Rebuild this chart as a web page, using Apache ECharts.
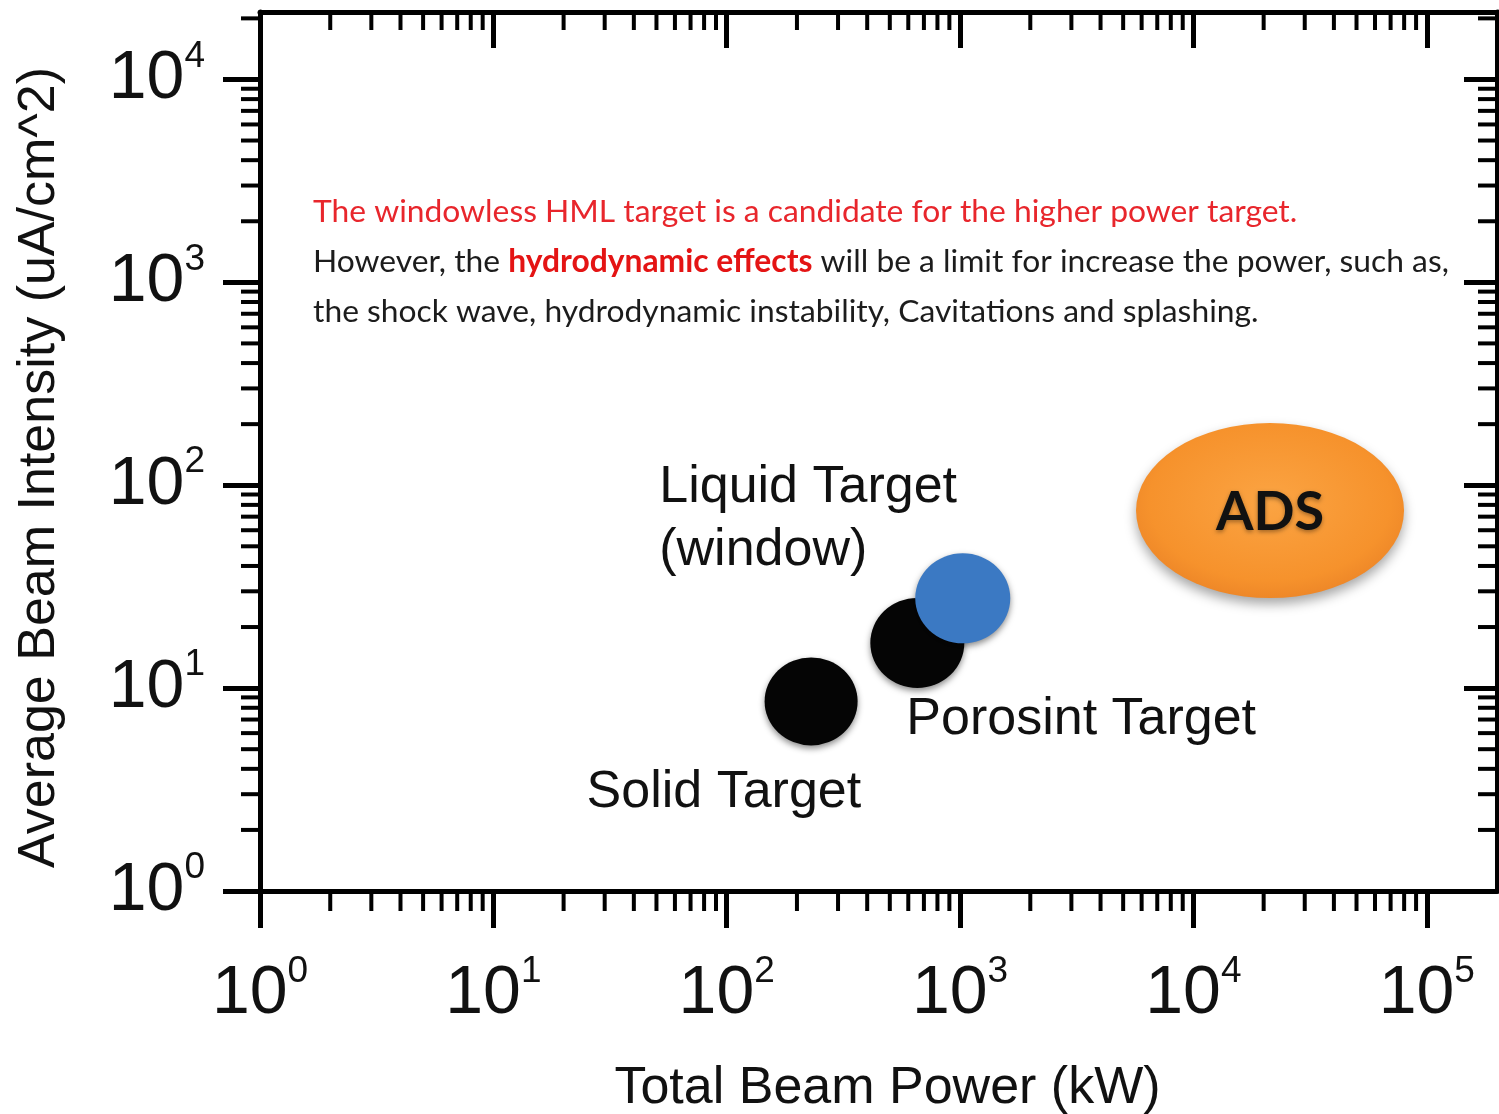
<!DOCTYPE html>
<html>
<head>
<meta charset="utf-8">
<script src="https://cdn.jsdelivr.net/npm/echarts@6/dist/echarts.min.js"></script>
<style>
html,body{margin:0;padding:0;background:#fff;}
#chart{width:1499px;height:1114px;}
</style>
</head>
<body>
<div id="chart"></div>
<script>
// ---- data ----
const TARGETS = ['Solid Target', 'Porosint Target', 'Liquid Target\n(window)', 'ADS'];
const POWER_KW = [230, 656, 1027, 21300];
const INTENSITY = [8.6, 16.7, 27.7, 75];
const X_MIN = 1, X_MAX = 200000;
const Y_MIN = 1, Y_MAX = 21500;
const X_NAME = 'Total Beam Power (kW)';
const Y_NAME = 'Average Beam Intensity (uA/cm^2)';
const NOTE_RED = 'The windowless HML target is a candidate for the higher power target.';
const NOTE_L2A = 'However, the ';
const NOTE_L2B = 'hydrodynamic effects';
const NOTE_L2C = ' will be a limit for increase the power, such as,';
const NOTE_L3 = 'the shock wave, hydrodynamic instability, Cavitations and splashing.';

// minor tick positions (2..9 x 10^k)
function minorTicks(min, max) {
  const out = [];
  for (let e = Math.floor(Math.log10(min)); e <= Math.ceil(Math.log10(max)); e++) {
    for (let m = 2; m <= 9; m++) {
      const v = m * Math.pow(10, e);
      if (v > min && v < max) out.push(v);
    }
  }
  return out;
}
const MINOR_X = minorTicks(X_MIN, X_MAX);
const MINOR_Y = minorTicks(Y_MIN, Y_MAX);

const FONT = 'Liberation Sans, Arial, sans-serif';
const powLabel = v => {
  const e = Math.round(Math.log10(v));
  if (Math.abs(Math.pow(10, e) - v) > 1e-6 * v) return '';
  return '{b|10}{s|' + e + '}';
};
const labelRich = {
  b: { fontSize: 68, fontFamily: FONT, color: '#111' },
  s: { fontSize: 37, fontFamily: FONT, color: '#111', padding: [0, 0, 46, 0] }
};
const AX = { lineStyle: { color: '#000', width: 5 } };

const chart = echarts.init(document.getElementById('chart'));

const styles = [
  { size: [93, 88], color: '#050505', z: 3, pos: [-178, 104] },
  { size: [94, 90], color: '#050505', z: 4, pos: [36, 90] },
  { size: [95, 90], color: '#3b79c3', z: 5, pos: [-256, -97] },
  { size: [268, 175], color: {
      type: 'radial', x: 0.5, y: 0.45, r: 0.6,
      colorStops: [{ offset: 0, color: '#fba443' }, { offset: 0.75, color: '#f6922c' }, { offset: 1, color: '#ea8226' }]
    }, z: 3, pos: null }
];

const scatterSeries = TARGETS.map((name, i) => {
  const st = styles[i];
  const isAds = i === 3;
  return {
    type: 'scatter',
    name: name,
    z: st.z,
    symbol: 'circle',
    symbolSize: st.size,
    data: [[POWER_KW[i], INTENSITY[i]]],
    itemStyle: {
      color: st.color,
      opacity: 1,
      shadowBlur: isAds ? 12 : 6,
      shadowColor: isAds ? 'rgba(0,0,0,0.35)' : 'rgba(0,0,0,0.45)',
      shadowOffsetY: isAds ? 6 : 3
    },
    label: isAds ? {
      show: true, position: 'inside', formatter: name,
      fontFamily: 'Lato, sans-serif', fontWeight: 'bold', fontSize: 54, color: '#111',
      textShadowColor: 'rgba(0,0,0,0.35)', textShadowBlur: 4, textShadowOffsetY: 2, offset: [0, 2]
    } : {
      show: true, position: st.pos, align: 'left', verticalAlign: 'top',
      formatter: name, fontFamily: FONT, fontSize: 52, lineHeight: 63, color: '#111'
    },
    emphasis: { disabled: true },
    silent: true
  };
});

const tickSeries = {
  type: 'custom',
  silent: true,
  clip: false,
  z: 10,
  data: [[X_MIN, Y_MIN]],
  renderItem: function (params, api) {
    const yb = api.coord([X_MIN, Y_MIN])[1];
    const yt = api.coord([X_MIN, Y_MAX])[1];
    const xl = api.coord([X_MIN, Y_MIN])[0];
    const xr = api.coord([X_MAX, Y_MIN])[0];
    const st = { stroke: '#000', lineWidth: 4 };
    const ch = [];
    MINOR_X.forEach(v => {
      const x = api.coord([v, Y_MIN])[0];
      ch.push({ type: 'line', shape: { x1: x, y1: yb, x2: x, y2: yb + 20 }, style: st });
      ch.push({ type: 'line', shape: { x1: x, y1: yt, x2: x, y2: yt + 18 }, style: st });
    });
    MINOR_Y.forEach(v => {
      const y = api.coord([X_MIN, v])[1];
      ch.push({ type: 'line', shape: { x1: xl - 19, y1: y, x2: xl, y2: y }, style: st });
      ch.push({ type: 'line', shape: { x1: xr - 19, y1: y, x2: xr, y2: y }, style: st });
    });
    return { type: 'group', children: ch };
  }
};

chart.setOption({
  animation: false,
  backgroundColor: '#fff',
  grid: { left: 260, right: 2, top: 12, bottom: 223, containLabel: false, outerBoundsMode: 'none' },
  xAxis: [
    {
      type: 'log', logBase: 10, min: X_MIN, max: X_MAX, position: 'bottom',
      name: X_NAME, nameLocation: 'middle', nameGap: 172,
      nameTextStyle: { fontFamily: FONT, fontSize: 52, color: '#111', padding: [0, 0, 0, 18] },
      axisLine: AX,
      axisTick: { show: true, inside: false, length: 37, lineStyle: { color: '#000', width: 5 } },
      axisLabel: { formatter: powLabel, rich: labelRich, margin: 62, showMaxLabel: false },
      splitLine: { show: false }
    },
    {
      type: 'log', logBase: 10, min: X_MIN, max: X_MAX, position: 'top',
      axisLine: AX,
      axisTick: { show: true, inside: true, length: 36, lineStyle: { color: '#000', width: 5 } },
      axisLabel: { show: false },
      splitLine: { show: false }
    }
  ],
  yAxis: [
    {
      type: 'log', logBase: 10, min: Y_MIN, max: Y_MAX, position: 'left',
      name: Y_NAME, nameLocation: 'middle', nameGap: 194,
      nameTextStyle: { fontFamily: FONT, fontSize: 52, color: '#111', padding: [0, 32, 0, 0] },
      axisLine: AX,
      axisTick: { show: true, inside: false, length: 37, lineStyle: { color: '#000', width: 5 } },
      axisLabel: { formatter: powLabel, rich: labelRich, margin: 55, showMaxLabel: false },
      splitLine: { show: false }
    },
    {
      type: 'log', logBase: 10, min: Y_MIN, max: Y_MAX, position: 'right',
      axisLine: AX,
      axisTick: { show: true, inside: true, length: 33, lineStyle: { color: '#000', width: 5 } },
      axisLabel: { show: false },
      splitLine: { show: false }
    }
  ],
  graphic: [{
    type: 'text',
    left: 313,
    top: 196,
    z: 20,
    style: {
      text: '{r|' + NOTE_RED + '}\n{k|' + NOTE_L2A + '}{rb|' + NOTE_L2B + '}{k|' + NOTE_L2C + '}\n{k|' + NOTE_L3 + '}',
      rich: {
        r: { fontFamily: 'Lato, sans-serif', fontSize: 31.8, fill: '#e8262c', lineHeight: 50 },
        k: { fontFamily: 'Lato, sans-serif', fontSize: 31.8, fill: '#1c1c1c', lineHeight: 50 },
        rb: { fontFamily: 'Lato, sans-serif', fontSize: 31.8, fontWeight: 'bold', fill: '#e41414', lineHeight: 50 }
      }
    }
  }],
  series: scatterSeries.concat([tickSeries])
});
</script>
</body>
</html>
